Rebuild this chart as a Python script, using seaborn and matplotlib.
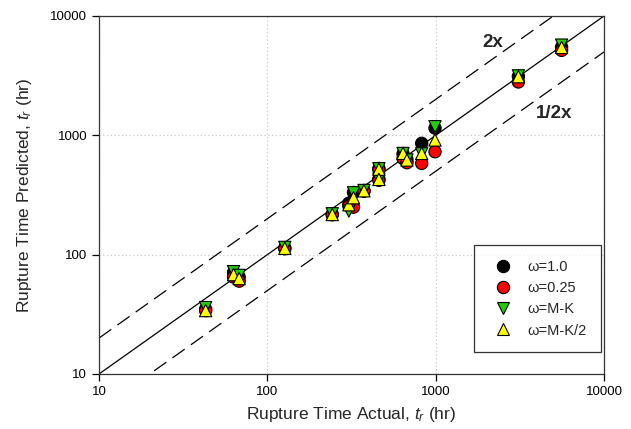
import numpy as np
import pandas as pd
import matplotlib
matplotlib.use("Agg")
import matplotlib.pyplot as plt
import seaborn as sns
from matplotlib.ticker import FixedLocator, FixedFormatter, NullLocator

# --- data ---
actual = [43, 63, 68, 127, 243, 305, 325, 375, 460, 460, 640, 675, 826, 991, 3100, 5600]
pred_w1 = [35, 71, 65, 114, 218, 270, 332, 345, 528, 430, 700, 625, 857, 1150, 3120, 5500]
pred_w025 = [34, 65, 60, 112, 216, 255, 250, 340, 515, 420, 640, 590, 582, 729, 2800, 5150]
pred_mk = [36, 72, 67, 115, 220, 232, 330, 345, 525, 428, 705, 622, 700, 1181, 3150, 5700]
pred_mk2 = [34, 68, 63, 113, 217, 262, 300, 343, 520, 427, 706, 621, 706, 914, 3100, 5450]
series_names = ["ω=1.0", "ω=0.25", "ω=M-K", "ω=M-K/2"]
tick_vals = [10, 100, 1000, 10000]
tick_labels = ["10", "100", "1000", "10000"]

rows = []
for name, preds in zip(series_names, [pred_w1, pred_w025, pred_mk, pred_mk2]):
    for a, p in zip(actual, preds):
        rows.append({"actual": a, "pred": p, "series": name})
df = pd.DataFrame(rows)

sns.set_style("white")
plt.rcParams["font.family"] = ["Liberation Sans", "DejaVu Sans"]
plt.rcParams["mathtext.fontset"] = "custom"
plt.rcParams["mathtext.it"] = "Liberation Sans:italic"
plt.rcParams["mathtext.rm"] = "Liberation Sans"

fig = plt.figure(figsize=(6.31, 4.29), dpi=100)
ax = fig.add_axes([99 / 631, 1 - 374 / 429, (604 - 99) / 631, (374 - 16) / 429])

xs = np.array([10, 10000])
ax.plot(xs, xs, color="black", lw=0.9, zorder=1)
ax.plot(xs, 2 * xs, color="black", lw=0.9, dashes=(12, 6), zorder=1)
ax.plot(xs, xs / 2, color="black", lw=0.9, dashes=(12, 6), zorder=1)

palette = {"ω=1.0": "black", "ω=0.25": "#ff0000", "ω=M-K": "#22cc00", "ω=M-K/2": "#ffff00"}
markers = {"ω=1.0": "o", "ω=0.25": "o", "ω=M-K": "v", "ω=M-K/2": "^"}
sns.scatterplot(data=df, x="actual", y="pred", hue="series", style="series",
                hue_order=series_names, style_order=series_names,
                palette=palette, markers=markers, s=78, edgecolor="black",
                linewidth=0.8, ax=ax, zorder=3)

ax.set_xscale("log")
ax.set_yscale("log")
ax.set_xlim(10, 10000)
ax.set_ylim(10, 10000)
for axis in (ax.xaxis, ax.yaxis):
    axis.set_major_locator(FixedLocator(tick_vals))
    axis.set_major_formatter(FixedFormatter(tick_labels))
    axis.set_minor_locator(NullLocator())
ax.tick_params(axis="both", which="major", direction="out", length=5, width=0.9,
               labelsize=9.5, bottom=True, left=True, top=False, right=False, colors="black")
ax.grid(True, which="major", color="#cccccc", linestyle=(0, (1, 2)), lw=0.9)
for sp in ax.spines.values():
    sp.set_color("#333333")
    sp.set_linewidth(0.9)

ax.set_xlabel("Rupture Time Actual, $t_r$ (hr)", fontsize=12.5, labelpad=5)
ax.set_ylabel("Rupture Time Predicted, $t_r$ (hr)", fontsize=12.5, labelpad=12)

ax.text(0.76, 0.925, "2x", transform=ax.transAxes, fontsize=13.5, fontweight="bold", ha="left", va="center")
ax.text(0.866, 0.729, "1/2x", transform=ax.transAxes, fontsize=13.5, fontweight="bold", ha="left", va="center")

leg = ax.legend(loc="lower right", bbox_to_anchor=(0.995, 0.061), frameon=True, fancybox=False,
                edgecolor="black", fontsize=10.5, handletextpad=0.7, labelspacing=0.5,
                borderpad=1.0, borderaxespad=0.0)
leg.get_frame().set_linewidth(0.9)

fig.savefig("out.png", dpi=100)
